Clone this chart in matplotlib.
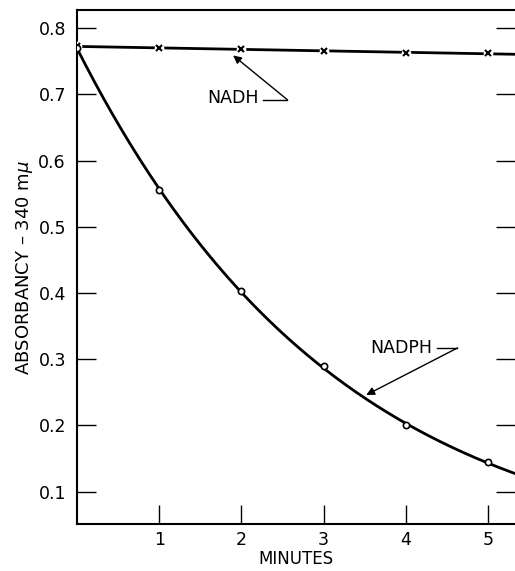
import matplotlib.pyplot as plt
import numpy as np

plt.rcParams['font.family'] = ['DejaVu Sans']

minutes = [0, 1, 2, 3, 4, 5]
nadh = [0.773, 0.770, 0.768, 0.766, 0.763, 0.762]
nadph = [0.770, 0.555, 0.403, 0.289, 0.200, 0.144]
x_ticks = [1, 2, 3, 4, 5]
y_ticks = [0.1, 0.2, 0.3, 0.4, 0.5, 0.6, 0.7, 0.8]

fig = plt.figure(figsize=(5.15, 5.71), dpi=100)
ax = fig.add_axes([0.1495, 0.0823, 0.8505, 0.9002])
ax.set_xlim(0, 5.33)
ax.set_ylim(0.051, 0.8276)

xs = np.linspace(0, 5.33, 300)

# NADH: nearly flat line, broken at the x marks
c1 = np.polyfit(minutes, nadh, 1)
ax.plot(xs, np.polyval(c1, xs), color='black', lw=2.0, zorder=2)
ax.plot(minutes, nadh, 'o', ms=7, mfc='white', mec='none', zorder=3)
ax.plot(minutes, nadh, 'x', ms=4, mew=1.5, color='black', zorder=4)

# NADPH: smooth curve fitted through the points
c2 = np.polyfit(minutes, np.log(nadph), 2)
ax.plot(xs, np.exp(np.polyval(c2, xs)), color='black', lw=2.0, zorder=2)
ax.plot(minutes, nadph, 'o', ms=4.5, mfc='white', mec='black', mew=1.2, zorder=4)

# labels with leader lines
ax.text(1.9, 0.694, 'NADH', fontsize=12.5, ha='center', va='center')
ax.plot([2.26, 2.56], [0.692, 0.692], color='black', lw=1.0)
ax.annotate('', xy=(1.9, 0.759), xytext=(2.56, 0.692),
            arrowprops=dict(arrowstyle='-|>', color='black', lw=1.0,
                            mutation_scale=12, shrinkA=0, shrinkB=0))

ax.text(3.95, 0.317, 'NADPH', fontsize=12.5, ha='center', va='center')
ax.plot([4.38, 4.63], [0.317, 0.317], color='black', lw=1.0)
ax.annotate('', xy=(3.52, 0.246), xytext=(4.63, 0.317),
            arrowprops=dict(arrowstyle='-|>', color='black', lw=1.0,
                            mutation_scale=12, shrinkA=0, shrinkB=0))

ax.set_xticks(x_ticks)
ax.set_xticklabels([str(t) for t in x_ticks])
ax.set_yticks(y_ticks)
ax.set_yticklabels(['%.1f' % t for t in y_ticks])
ax.tick_params(axis='x', direction='in', length=14, width=1.0, labelsize=12.5, pad=5)
ax.tick_params(axis='y', direction='in', length=14, width=1.0, labelsize=12.5,
               right=True, pad=8)
ax.spines['right'].set_visible(False)
for s in ['left', 'bottom', 'top']:
    ax.spines[s].set_linewidth(1.5)

ax.set_xlabel('MINUTES', fontsize=12, labelpad=1)
ax.set_ylabel('ABSORBANCY \u2013 340 m$\\mu$', fontsize=13, labelpad=2)

fig.savefig('out.png', dpi=100)
